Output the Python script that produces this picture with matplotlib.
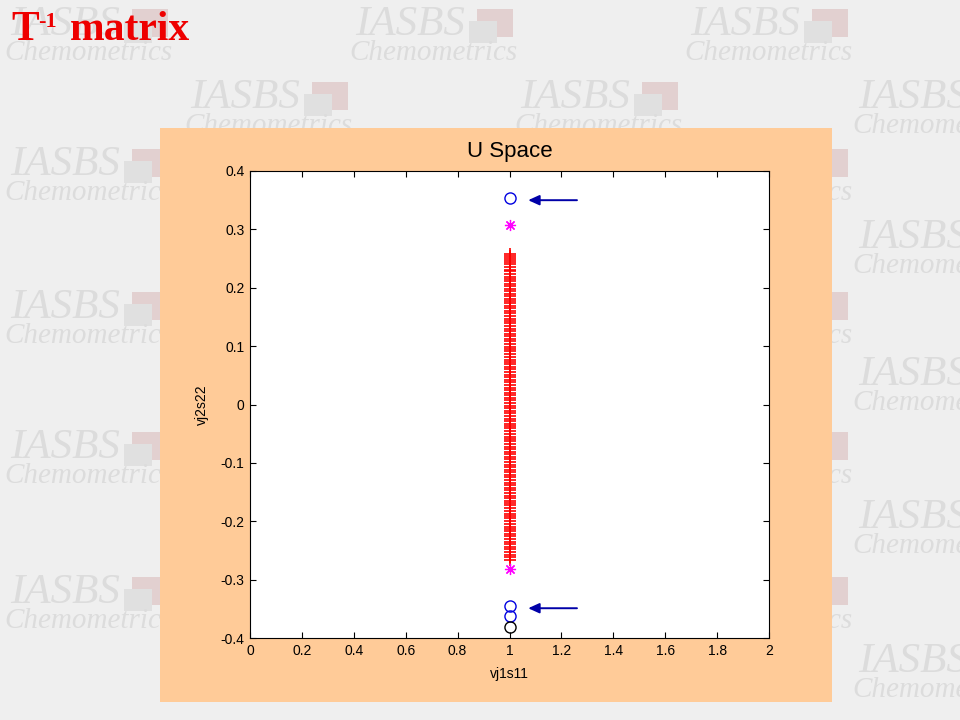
import matplotlib
matplotlib.use('Agg')
import matplotlib.pyplot as plt
from matplotlib.patches import Rectangle

# values (x is always 1 for every point)
red_y = [0.258, 0.255, 0.251, 0.247, 0.244, 0.240, 0.236, 0.231, 0.228, 0.224,
         0.219, 0.215, 0.212, 0.207, 0.203, 0.198, 0.195, 0.190, 0.186, 0.181,
         0.177, 0.174, 0.169, 0.165, 0.160, 0.156, 0.152, 0.147, 0.143, 0.139,
         0.134, 0.130, 0.126, 0.121, 0.117, 0.112, 0.108, 0.104, 0.099, 0.095,
         0.091, 0.086, 0.082, 0.077, 0.073, 0.069, 0.064, 0.060, 0.055, 0.051,
         0.047, 0.042, 0.038, 0.033, 0.029, 0.025, 0.020, 0.016, 0.011, 0.007,
         0.003, -0.002, -0.006, -0.011, -0.015, -0.019, -0.024, -0.028, -0.033, -0.037,
         -0.041, -0.046, -0.050, -0.055, -0.059, -0.063, -0.068, -0.072, -0.077, -0.081,
         -0.085, -0.090, -0.094, -0.099, -0.103, -0.107, -0.112, -0.116, -0.121, -0.125,
         -0.129, -0.134, -0.138, -0.143, -0.147, -0.151, -0.156, -0.160, -0.165, -0.169,
         -0.173, -0.178, -0.182, -0.187, -0.191, -0.195, -0.200, -0.204, -0.209, -0.213,
         -0.217, -0.222, -0.226, -0.231, -0.235, -0.239, -0.244, -0.248, -0.253, -0.257,
         -0.261, -0.266]
magenta_y = [0.308, -0.282]
blue_y = [0.354, -0.345, -0.362]
black_y = [-0.381]
arrow_y = [0.350, -0.349]
arrow_x = (1.26, 1.072)

xticks = [0, 0.2, 0.4, 0.6, 0.8, 1, 1.2, 1.4, 1.6, 1.8, 2]
xticklabels = ['0', '0.2', '0.4', '0.6', '0.8', '1', '1.2', '1.4', '1.6', '1.8', '2']
yticks = [-0.4, -0.3, -0.2, -0.1, 0, 0.1, 0.2, 0.3, 0.4]
yticklabels = ['-0.4', '-0.3', '-0.2', '-0.1', '0', '0.1', '0.2', '0.3', '0.4']

plt.rcParams['font.family'] = 'Liberation Sans'

W, H = 960, 720
fig = plt.figure(figsize=(9.6, 7.2), dpi=100, facecolor='#efefef')


def px(x, y):
    return x / W, 1 - y / H


# background watermark of the slide
wm_rows = [35, 108, 175, 248, 318, 385, 458, 528, 603, 672]
for i, yb in enumerate(wm_rows):
    xs = [10, 355, 690] if i % 2 == 0 else [190, 520, 858]
    for x0 in xs:
        fig.patches.append(Rectangle(px(x0 + 122, yb + 2), 36 / W, 28 / H,
                                     transform=fig.transFigure, color='#e2d0d0', zorder=0.4, lw=0))
        fig.patches.append(Rectangle(px(x0 + 114, yb + 8), 28 / W, 22 / H,
                                     transform=fig.transFigure, color='#e0e0e0', zorder=0.45, lw=0))
        fig.text(*px(x0, yb), 'IASBS', fontsize=31, family='Liberation Serif', style='italic',
                 color='#dcdcdc', va='baseline', zorder=0.5)
        fig.text(*px(x0 - 6, yb + 25), 'Chemometrics', fontsize=21, family='Liberation Serif',
                 style='italic', color='#dcdcdc', va='baseline', zorder=0.5)

# slide title
red = '#ee0000'
fig.text(*px(11, 40), 'T', fontsize=30, family='Liberation Serif', weight='bold', color=red,
         va='baseline', zorder=3)
fig.text(*px(38, 27), '-1', fontsize=16, family='Liberation Serif', weight='bold', color=red,
         va='baseline', zorder=3)
fig.text(*px(70, 40), 'matrix', fontsize=30, family='Liberation Serif', weight='bold', color=red,
         va='baseline', zorder=3)

# orange figure panel
fig.patches.append(Rectangle(px(160, 702), 672 / W, 574 / H, transform=fig.transFigure,
                             color='#ffcb98', zorder=1, lw=0))

ax = fig.add_axes([250 / W, 1 - 638 / H, 519 / W, 467 / H])
ax.set_zorder(2)
ax.set_facecolor('white')

ax.plot([1] * len(red_y), red_y, '+', color='#ff0000', ms=8, mew=1.2)
ax.plot([1] * len(magenta_y), magenta_y, ls='none', marker=(8, 2, 0), color='#ff00ff', ms=8, mew=0.9)
ax.plot([1] * len(blue_y), blue_y, 'o', mfc='none', mec='#0000e0', ms=8, mew=1.0)
ax.plot([1] * len(black_y), black_y, 'o', mfc='none', mec='black', ms=8, mew=1.0)

for ya in arrow_y:
    ax.annotate('', xy=(arrow_x[1], ya), xytext=(arrow_x[0], ya),
                arrowprops=dict(arrowstyle='-|>,head_length=0.55,head_width=0.25',
                                color='#0000a8', lw=1.4, shrinkA=0, shrinkB=0,
                                mutation_scale=12))

ax.set_xlim(0, 2)
ax.set_ylim(-0.4, 0.4)
ax.set_xticks(xticks)
ax.set_xticklabels(xticklabels)
ax.set_yticks(yticks)
ax.set_yticklabels(yticklabels)
ax.tick_params(direction='in', top=True, right=True, length=4, width=0.8, labelsize=10, pad=4)
for s in ax.spines.values():
    s.set_linewidth(0.8)

ax.set_title('U Space', fontsize=16, pad=10)
ax.set_xlabel('vj1s11', fontsize=10, labelpad=7)
ax.set_ylabel('vj2s22', fontsize=10, labelpad=8)

fig.savefig('out.png', dpi=100, facecolor=fig.get_facecolor())
